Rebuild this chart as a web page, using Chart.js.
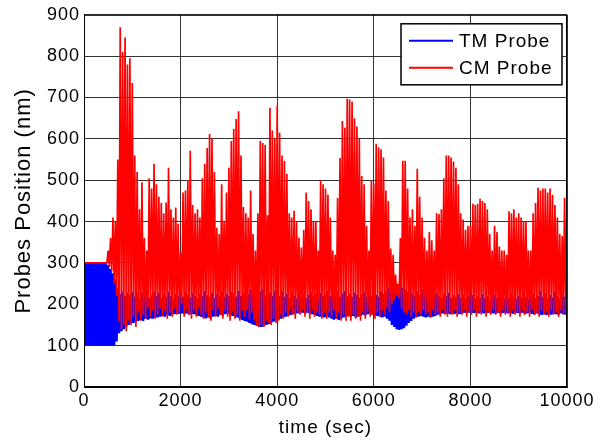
<!DOCTYPE html>
<html>
<head>
<meta charset="utf-8">
<script src="https://cdn.jsdelivr.net/npm/chart.js@4.4.1/dist/chart.umd.min.js"></script>
<style>
  body { margin: 0; background: #fff; }
  #wrap { width: 600px; height: 444px; }
</style>
</head>
<body>
<div id="wrap"><canvas id="grafico" width="600" height="444"></canvas></div>
<script>
// amostras a cada 25 s, de 0 a 10000 s
var passo = 25;

var seriesNomes = ['TM Probe', 'CM Probe'];
var yTicks = [0, 100, 200, 300, 400, 500, 600, 700, 800, 900];
var xTicks = [0, 2000, 4000, 6000, 8000, 10000];

var tmProbe = [
  300,100,300,100,300,100,300,100,300,100,300,100,300,100,300,100,300,100,300,100,
  295,100,285,100,275,100,260,110,240,130,225,135,230,140,220,145,228,150,222,155,
  230,155,218,158,226,160,215,162,228,160,220,165,225,163,215,166,222,165,230,168,
  220,168,228,170,215,172,224,170,218,174,230,172,220,175,214,176,225,178,220,177,
  226,178,218,176,230,178,222,175,216,177,228,176,220,174,215,172,226,170,220,168,
  232,166,222,168,218,165,228,170,215,172,224,170,220,175,230,173,218,176,225,178,
  220,175,230,172,226,170,218,168,232,165,220,162,228,160,240,158,225,155,235,152,
  238,150,225,148,240,145,230,145,236,148,222,150,235,152,228,155,220,158,232,160,
  226,162,220,165,232,168,218,170,225,172,215,174,228,176,220,178,214,178,224,180,
  218,180,226,178,215,180,222,178,230,176,220,174,225,172,216,170,228,170,220,168,
  224,170,232,168,220,165,228,163,222,165,230,162,218,165,226,168,232,170,220,172,
  225,170,218,172,228,168,222,170,215,172,224,175,230,173,218,176,225,178,220,175,
  228,173,222,172,218,170,230,168,225,170,232,165,240,160,245,150,250,145,245,140,
  248,138,244,140,240,142,235,148,230,155,238,160,226,165,220,168,230,170,222,172,
  235,170,228,168,222,170,230,168,225,170,218,172,226,175,220,176,215,178,224,177,
  220,178,228,176,215,178,222,177,218,178,225,176,216,178,222,180,214,179,220,180,
  218,180,222,179,214,180,220,178,216,180,224,178,215,180,220,179,212,180,218,178,
  222,178,215,180,226,177,218,179,214,180,222,178,216,179,228,177,218,180,214,179,
  220,178,216,180,230,176,218,178,214,180,222,177,226,175,215,178,220,176,232,174,
  218,176,226,174,214,177,222,175,216,178,230,176,220,175,214,178,226,176,218,175,222
];

var cmProbe = [
  300,300,300,300,300,300,300,300,300,300,300,300,300,300,300,300,300,300,300,300,
  330,290,360,280,410,250,400,220,550,160,870,140,810,150,845,135,780,160,795,150,
  735,170,560,145,520,180,430,160,495,175,360,165,330,190,505,170,480,185,540,165,
  490,175,460,190,445,170,420,185,446,165,530,180,430,170,410,190,434,175,395,180,
  325,200,470,170,475,185,500,175,571,165,440,185,420,170,430,190,410,175,505,165,
  540,180,578,170,612,160,600,185,520,170,385,190,370,175,490,165,400,185,470,170,
  530,160,595,180,624,165,648,175,667,160,560,185,435,170,420,185,410,165,475,180,
  370,160,330,150,420,145,595,150,590,145,585,160,415,155,675,150,620,165,600,155,
  680,160,615,175,560,165,547,180,515,170,420,185,410,175,426,165,400,180,361,175,
  337,185,380,170,470,180,450,165,430,185,400,170,400,180,330,175,500,165,490,180,
  480,165,465,180,410,170,330,185,320,165,457,180,554,160,643,175,627,160,697,170,
  695,160,690,175,650,165,630,170,600,160,510,180,490,165,390,180,330,170,500,175,
  492,165,588,180,580,170,575,185,555,175,475,190,450,180,335,200,320,210,272,220,
  250,215,360,190,547,180,547,175,480,185,410,170,430,180,390,170,528,180,460,175,
  410,185,360,175,330,180,375,170,355,185,330,175,420,180,418,170,430,185,505,175,
  560,170,560,180,555,175,545,185,530,170,490,180,420,175,405,185,380,170,390,180,
  390,175,443,185,440,170,443,180,455,175,450,185,445,170,430,180,370,175,330,185,
  390,175,375,180,340,170,330,185,330,175,320,180,425,170,420,185,430,175,410,180,
  420,170,410,185,400,175,400,180,330,170,330,185,420,175,445,180,482,170,475,185,
  480,175,480,180,470,170,480,185,465,175,440,180,410,170,370,185,365,175,457,180,460
];

function pontos(valores){
  return valores.map(function(v, i){ return { x: i * passo, y: v }; });
}

var fonte = '"Liberation Sans", Arial, sans-serif';

// legenda estilo matlab dentro do grafico + moldura
var legendaPlugin = {
  id: 'legendaMatlab',
  beforeDraw: function(chart){
    chart.ctx.letterSpacing = '1px';
  },
  afterDraw: function(chart){
    var ctx = chart.ctx;
    var a = chart.chartArea;
    ctx.save();
    ctx.strokeStyle = '#000';
    ctx.lineWidth = 1;
    ctx.strokeRect(a.left + 0.5, a.top + 0.5, a.right - a.left - 1, a.bottom - a.top - 1);

    var bx = a.right - 166, by = a.top + 9, bw = 161, bh = 61;
    ctx.fillStyle = '#fff';
    ctx.fillRect(bx, by, bw, bh);
    ctx.lineWidth = 1.5;
    ctx.strokeRect(bx, by, bw, bh);

    ctx.font = '19px ' + fonte;
    ctx.textBaseline = 'middle';
    ctx.textAlign = 'left';
    chart.data.datasets.forEach(function(ds, i){
      var ly = by + 17 + i * 27;
      ctx.strokeStyle = ds.borderColor;
      ctx.lineWidth = 2;
      ctx.beginPath();
      ctx.moveTo(bx + 8, ly);
      ctx.lineTo(bx + 52, ly);
      ctx.stroke();
      ctx.fillStyle = '#000';
      ctx.fillText(ds.label, bx + 58, ly + 1);
    });
    ctx.restore();
  }
};

var ctx = document.getElementById('grafico');

new Chart(ctx, {
  type: 'line',
  data: {
    datasets: [
      {
        label: seriesNomes[0],
        data: pontos(tmProbe),
        borderColor: '#0000ff',
        borderWidth: 2.4,
        borderJoinStyle: 'bevel',
        pointRadius: 0,
        tension: 0,
        order: 2
      },
      {
        label: seriesNomes[1],
        data: pontos(cmProbe),
        borderColor: '#ff0000',
        borderWidth: 1.7,
        borderJoinStyle: 'bevel',
        pointRadius: 0,
        tension: 0,
        order: 1
      }
    ]
  },
  options: {
    responsive: false,
    animation: false,
    events: [],
    layout: { padding: { left: 0, right: 33, top: 14, bottom: 0 } },
    plugins: {
      legend: { display: false },
      tooltip: { enabled: false }
    },
    scales: {
      x: {
        type: 'linear',
        min: 0,
        max: 10000,
        afterFit: function(s){ s.height = 57; },
        afterBuildTicks: function(s){ s.ticks = xTicks.map(function(v){ return { value: v }; }); },
        ticks: {
          color: '#000',
          padding: 3,
          maxRotation: 0,
          font: { family: fonte, size: 18 },
          callback: function(v){ return String(v); }
        },
        grid: { color: 'rgba(0,0,0,0.8)', lineWidth: 1, drawTicks: false },
        border: { color: '#000', width: 1 },
        title: {
          display: true,
          text: 'time (sec)',
          color: '#000',
          font: { family: fonte, size: 19 },
          padding: { top: 0, bottom: 5 }
        }
      },
      y: {
        min: 0,
        max: 900,
        afterFit: function(s){ s.width = 84; },
        afterBuildTicks: function(s){ s.ticks = yTicks.map(function(v){ return { value: v }; }); },
        ticks: {
          color: '#000',
          padding: 4,
          font: { family: fonte, size: 18 },
          callback: function(v){ return String(v); }
        },
        grid: { color: 'rgba(0,0,0,0.8)', lineWidth: 1, drawTicks: false },
        border: { color: '#000', width: 1 },
        title: {
          display: true,
          text: 'Probes Position (nm)',
          color: '#000',
          font: { family: fonte, size: 22 },
          padding: { top: 11, bottom: 0 }
        }
      }
    }
  },
  plugins: [legendaPlugin]
});
</script>
</body>
</html>
